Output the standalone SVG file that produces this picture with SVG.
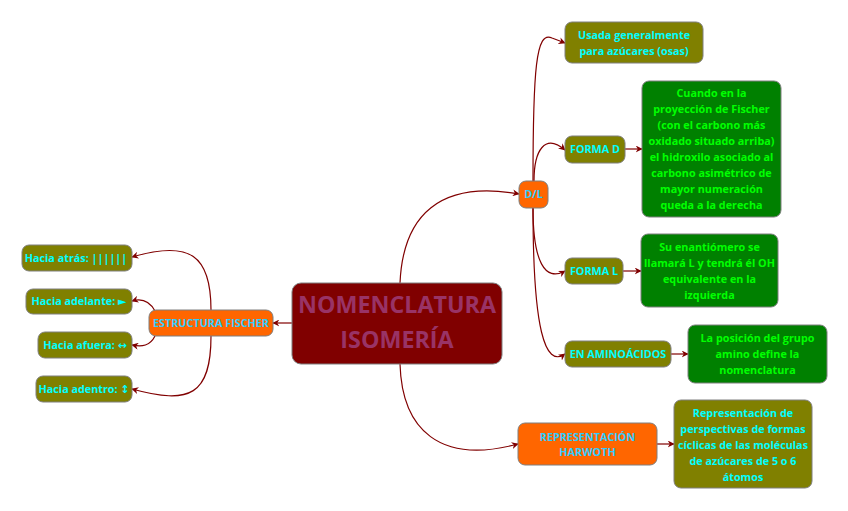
<svg xmlns="http://www.w3.org/2000/svg" width="848" height="511" viewBox="0 0 848 511">
<style>
text{font-family:"Open Sans","Noto Sans","DejaVu Sans",sans-serif;font-weight:bold;font-size:10.8px;text-anchor:middle}
.box{stroke:#7f7f7f;stroke-width:1}
.olive{fill:#808000}
.green{fill:#008000}
.orange{fill:#FF6600}
.tc{fill:#00FFFF}
.tb{fill:#33CCFF}
.tg{fill:#00FF00}
.big{font-size:23.3px;fill:#993366}
.conn path{fill:none;stroke:#800000;stroke-width:1.2;marker-end:url(#arr)}
</style>
<defs>
<marker id="arr" viewBox="0 0 10 10" refX="9" refY="5" markerWidth="7" markerHeight="7" markerUnits="userSpaceOnUse" orient="auto">
<path d="M0,0 L10,5 L0,10 L3,5 z" fill="#800000"/>
</marker>
</defs>
<rect width="848" height="511" fill="#ffffff"/>
<g class="conn" id="connectors">
<path d="M400,283 C403,215 440,180 519,194"/>
<path d="M400,364 C402,430 440,465 518,444"/>
<path d="M292,323 L273,323"/>
<path d="M533,181 C533,70 536,30 552,38 Q560,41 565,43"/>
<path d="M534,181 C534,150 545,133 565,150"/>
<path d="M533,208 C533,262 545,282 565,271"/>
<path d="M533,208 C533,330 545,368 565,354"/>
<path d="M625,149 L642,149"/>
<path d="M623,271 L641,271"/>
<path d="M671,354 L688,354"/>
<path d="M657,444 L674,444"/>
<path d="M211,310 C211,255 190,240 132,257"/>
<path d="M155,311 C150,302 142,298 132,301"/>
<path d="M155,336 C150,346 142,347 132,345"/>
<path d="M211,336 C211,395 190,405 132,389"/>
</g>
<g id="central">
<rect class="box" x="292" y="283" width="210" height="81" rx="9" fill="#800000"/>
<text class="big" x="397" y="313">NOMENCLATURA</text>
<text class="big" x="397" y="348">ISOMERÍA</text>
</g>
<g id="dl">
<rect class="box orange" x="519" y="181" width="29" height="27" rx="7"/>
<text class="tb" x="533.5" y="198">D/L</text>
</g>
<g id="usada">
<rect class="box olive" x="565" y="22" width="138" height="41" rx="7"/>
<text class="tc" x="634" y="39">Usada generalmente</text>
<text class="tc" x="634" y="55">para azúcares (osas)</text>
</g>
<g id="formad">
<rect class="box olive" x="565" y="136" width="60" height="27" rx="7"/>
<text class="tc" x="595" y="153">FORMA D</text>
</g>
<g id="cuando">
<rect class="box green" x="642" y="81" width="139" height="136" rx="7"/>
<text class="tg" x="711.5" y="97">Cuando en la</text>
<text class="tg" x="711.5" y="113">proyección de Fischer</text>
<text class="tg" x="711.5" y="129">(con el carbono más</text>
<text class="tg" x="711.5" y="145">oxidado situado arriba)</text>
<text class="tg" x="711.5" y="161">el hidroxilo asociado al</text>
<text class="tg" x="711.5" y="177">carbono asimétrico de</text>
<text class="tg" x="711.5" y="193">mayor numeración</text>
<text class="tg" x="711.5" y="209">queda a la derecha</text>
</g>
<g id="formal">
<rect class="box olive" x="565" y="258" width="58" height="26" rx="7"/>
<text class="tc" x="594" y="275">FORMA L</text>
</g>
<g id="su">
<rect class="box green" x="641" y="234" width="137" height="73" rx="7"/>
<text class="tg" x="709.5" y="251">Su enantiómero se</text>
<text class="tg" x="709.5" y="267">llamará L y tendrá él OH</text>
<text class="tg" x="709.5" y="283">equivalente en la</text>
<text class="tg" x="709.5" y="299">izquierda</text>
</g>
<g id="amino">
<rect class="box olive" x="565" y="341" width="106" height="26" rx="7"/>
<text class="tc" x="618" y="358">EN AMINOÁCIDOS</text>
</g>
<g id="laposicion">
<rect class="box green" x="688" y="325" width="139" height="58" rx="7"/>
<text class="tg" x="757.5" y="342">La posición del grupo</text>
<text class="tg" x="757.5" y="358">amino define la</text>
<text class="tg" x="757.5" y="374">nomenclatura</text>
</g>
<g id="harwoth">
<rect class="box orange" x="518" y="423" width="139" height="42" rx="7"/>
<text class="tb" x="587.5" y="441">REPRESENTACIÓN</text>
<text class="tb" x="587.5" y="456">HARWOTH</text>
</g>
<g id="representacion">
<rect class="box olive" x="674" y="400" width="138" height="88" rx="7"/>
<text class="tc" x="743" y="417">Representación de</text>
<text class="tc" x="743" y="433">perspectivas de formas</text>
<text class="tc" x="743" y="449">cíclicas de las moléculas</text>
<text class="tc" x="743" y="465">de azúcares de 5 o 6</text>
<text class="tc" x="743" y="481">átomos</text>
</g>
<g id="fischer">
<rect class="box orange" x="149" y="310" width="124" height="26" rx="7"/>
<text class="tb" x="211" y="327">ESTRUCTURA FISCHER</text>
</g>
<g id="atras">
<rect class="box olive" x="22" y="245" width="110" height="26" rx="7"/>
<text class="tc" x="76" y="262">Hacia atrás: ||||||</text>
</g>
<g id="adelante">
<rect class="box olive" x="26" y="289" width="106" height="25" rx="7"/>
<text class="tc" x="79" y="305">Hacia adelante: ►</text>
</g>
<g id="afuera">
<rect class="box olive" x="38" y="332" width="94" height="26" rx="7"/>
<text class="tc" x="85" y="349">Hacia afuera: ↔</text>
</g>
<g id="adentro">
<rect class="box olive" x="36" y="376" width="96" height="26" rx="7"/>
<text class="tc" x="84" y="393">Hacia adentro: ↕</text>
</g>
</svg>
